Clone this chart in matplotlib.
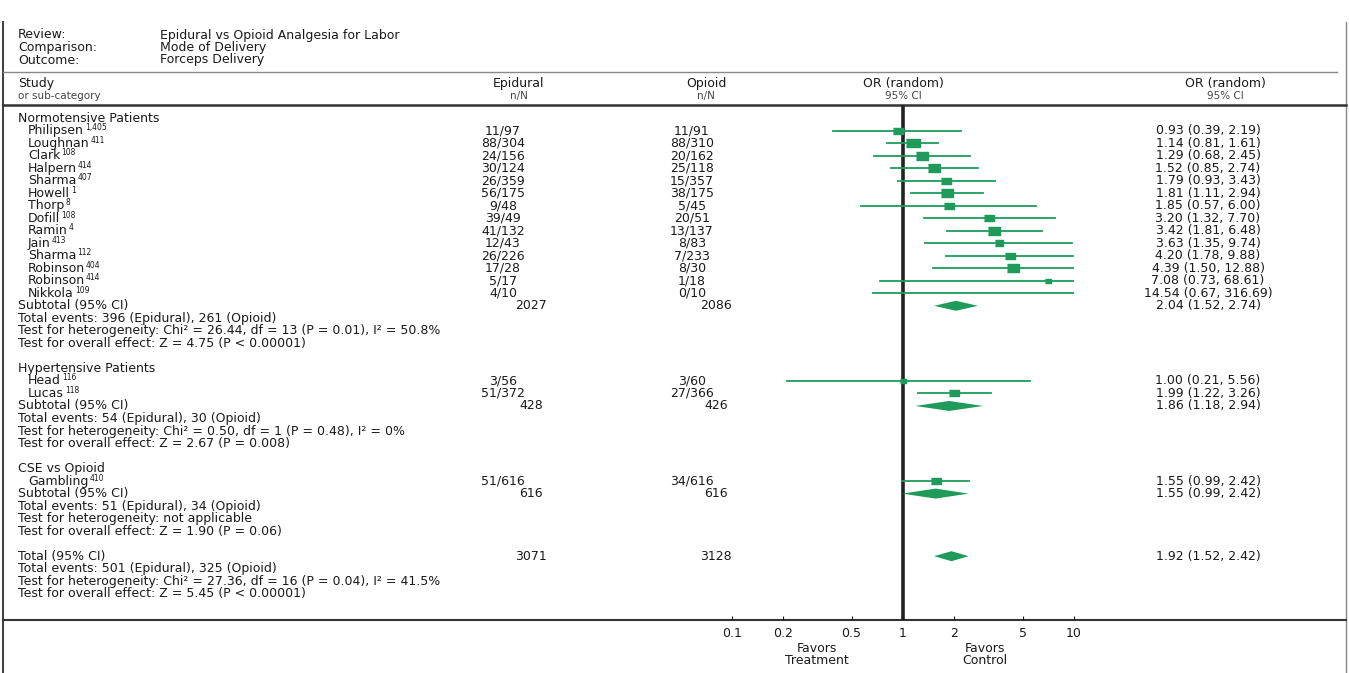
import matplotlib
matplotlib.use('Agg')
import matplotlib.pyplot as plt

plt.rcParams['font.family'] = ['DejaVu Sans']

# header info
review = 'Epidural vs Opioid Analgesia for Labor'
comparison = 'Mode of Delivery'
outcome = 'Forceps Delivery'

# individual studies
studies = ['Philipsen', 'Loughnan', 'Clark', 'Halpern', 'Sharma', 'Howell', 'Thorp',
           'Dofill', 'Ramin', 'Jain', 'Sharma', 'Robinson', 'Robinson', 'Nikkola',
           'Head', 'Lucas', 'Gambling']
refs = ['1,405', '411', '108', '414', '407', '1', '8', '108', '4', '413', '112',
        '404', '414', '109', '116', '118', '410']
study_group = [0] * 14 + [1] * 2 + [2]
epidural_nN = ['11/97', '88/304', '24/156', '30/124', '26/359', '56/175', '9/48', '39/49',
               '41/132', '12/43', '26/226', '17/28', '5/17', '4/10', '3/56', '51/372', '51/616']
opioid_nN = ['11/91', '88/310', '20/162', '25/118', '15/357', '38/175', '5/45', '20/51',
             '13/137', '8/83', '7/233', '8/30', '1/18', '0/10', '3/60', '27/366', '34/616']
odds = [0.93, 1.14, 1.29, 1.52, 1.79, 1.81, 1.85, 3.20, 3.42, 3.63, 4.20, 4.39, 7.08, 14.54,
        1.00, 1.99, 1.55]
ci_lo = [0.39, 0.81, 0.68, 0.85, 0.93, 1.11, 0.57, 1.32, 1.81, 1.35, 1.78, 1.50, 0.73, 0.67,
         0.21, 1.22, 0.99]
ci_hi = [2.19, 1.61, 2.45, 2.74, 3.43, 2.94, 6.00, 7.70, 6.48, 9.74, 9.88, 12.88, 68.61, 316.69,
         5.56, 3.26, 2.42]
weights = [6.5, 11, 9, 10, 8, 9, 6, 8, 9, 5, 8, 9, 2, 1.5, 1.5, 7, 7]

# subgroups
group_names = ['Normotensive Patients', 'Hypertensive Patients', 'CSE vs Opioid']
sub_epi = ['2027', '428', '616']
sub_opi = ['2086', '426', '616']
sub_or = [2.04, 1.86, 1.55]
sub_lo = [1.52, 1.18, 0.99]
sub_hi = [2.74, 2.94, 2.42]
sub_events = ['Total events: 396 (Epidural), 261 (Opioid)',
              'Total events: 54 (Epidural), 30 (Opioid)',
              'Total events: 51 (Epidural), 34 (Opioid)']
sub_het = ['Test for heterogeneity: Chi² = 26.44, df = 13 (P = 0.01), I² = 50.8%',
           'Test for heterogeneity: Chi² = 0.50, df = 1 (P = 0.48), I² = 0%',
           'Test for heterogeneity: not applicable']
sub_effect = ['Test for overall effect: Z = 4.75 (P < 0.00001)',
              'Test for overall effect: Z = 2.67 (P = 0.008)',
              'Test for overall effect: Z = 1.90 (P = 0.06)']

# overall
total_epi = '3071'
total_opi = '3128'
total_or, total_lo, total_hi = 1.92, 1.52, 2.42
total_lines = ['Total events: 501 (Epidural), 325 (Opioid)',
               'Test for heterogeneity: Chi² = 27.36, df = 16 (P = 0.04), I² = 41.5%',
               'Test for overall effect: Z = 5.45 (P < 0.00001)']

x_ticks = [0.1, 0.2, 0.5, 1, 2, 5, 10]
tick_labels = ['0.1', '0.2', '0.5', '1', '2', '5', '10']

green = '#1e9b5b'
ink = '#1a1a1a'
W, H = 1349, 673
fs = 9

fig = plt.figure(figsize=(W / 100, H / 100), dpi=100)
bg = fig.add_axes([0, 0, 1, 1])
bg.set_xlim(0, W)
bg.set_ylim(H, 0)
bg.axis('off')
renderer = fig.canvas.get_renderer()

# forest panel, y in pixel rows so both axes share rows
ax = fig.add_axes([732 / W, 1 - 620 / H, (1074 - 732) / W, (620 - 105) / H])
ax.set_facecolor('none')
ax.set_xscale('log')
ax.set_xlim(0.1, 10)
ax.set_ylim(620, 105)
for s in ax.spines.values():
    s.set_visible(False)
ax.set_yticks([])
ax.set_xticks(x_ticks)
ax.set_xticklabels(tick_labels)
ax.minorticks_off()
ax.tick_params(axis='x', direction='in', length=3, labelsize=fs, pad=5, colors=ink)
ax.axvline(1, color='#222222', lw=2.6, zorder=1)

# frame and rules
bg.plot([3, 3], [22, H], color='#444', lw=1.5)
bg.plot([1346, 1346], [22, H], color='#888', lw=1)
bg.plot([3, 1337], [72, 72], color='#888', lw=1)
bg.plot([3, 1346], [105, 105], color='#333', lw=1.8)
bg.plot([3, 1346], [620, 620], color='#333', lw=1.5)

# header
for i, (k, v) in enumerate([('Review:', review), ('Comparison:', comparison), ('Outcome:', outcome)]):
    y = 35 + i * 12.5
    bg.text(18, y, k, fontsize=fs, va='center', color=ink)
    bg.text(160, y, v, fontsize=fs, va='center', color=ink)

bg.text(18, 83, 'Study', fontsize=fs, va='center', color=ink)
bg.text(18, 96, 'or sub-category', fontsize=7.5, va='center', color='#444')
for cx, t1, t2 in [(519, 'Epidural', 'n/N'), (706, 'Opioid', 'n/N'),
                   (903, 'OR (random)', '95% CI'), (1225, 'OR (random)', '95% CI')]:
    bg.text(cx, 83, t1, fontsize=fs, va='center', ha='center', color=ink)
    bg.text(cx, 96, t2, fontsize=7.5, va='center', ha='center', color='#444')

row_h = 12.52
y0 = 118
marker_rect = [(-1, -0.6), (1, -0.6), (1, 0.6), (-1, 0.6)]


def row_y(r):
    return y0 + r * row_h


def diamond(o, lo, hi, y):
    ax.fill([lo, o, hi, o], [y, y - 5, y, y + 5], color=green, lw=0, zorder=3)


def study_label(name, ref, y):
    t = bg.text(28, y, name, fontsize=fs, va='center', color=ink)
    bb = t.get_window_extent(renderer)
    x_end = bg.transData.inverted().transform((bb.x1, bb.y0))[0]
    bg.text(x_end + 1, y - 3, ref, fontsize=5.5, va='center', color=ink)


r = 0
for g, name in enumerate(group_names):
    bg.text(18, row_y(r), name, fontsize=fs, va='center', color=ink)
    r += 1
    for i in range(len(studies)):
        if study_group[i] != g:
            continue
        y = row_y(r)
        study_label(studies[i], refs[i], y)
        bg.text(503, y, epidural_nN[i], fontsize=fs, va='center', ha='center', color=ink)
        bg.text(692, y, opioid_nN[i], fontsize=fs, va='center', ha='center', color=ink)
        bg.text(1208, y, f'{odds[i]:.2f} ({ci_lo[i]:.2f}, {ci_hi[i]:.2f})',
                fontsize=fs, va='center', ha='center', color=ink)
        ax.plot([ci_lo[i], ci_hi[i]], [y, y], color=green, lw=1.3, zorder=2)
        ax.plot(odds[i], y, marker=marker_rect, ms=3.5 + 0.55 * weights[i],
                color=green, mec=green, zorder=3, ls='none')
        r += 1
    y = row_y(r)
    bg.text(18, y, 'Subtotal (95% CI)', fontsize=fs, va='center', color=ink)
    bg.text(531, y, sub_epi[g], fontsize=fs, va='center', ha='center', color=ink)
    bg.text(716, y, sub_opi[g], fontsize=fs, va='center', ha='center', color=ink)
    bg.text(1208, y, f'{sub_or[g]:.2f} ({sub_lo[g]:.2f}, {sub_hi[g]:.2f})',
            fontsize=fs, va='center', ha='center', color=ink)
    diamond(sub_or[g], sub_lo[g], sub_hi[g], y)
    r += 1
    for line in [sub_events[g], sub_het[g], sub_effect[g]]:
        bg.text(18, row_y(r), line, fontsize=fs, va='center', color=ink)
        r += 1
    r += 1

y = row_y(r)
bg.text(18, y, 'Total (95% CI)', fontsize=fs, va='center', color=ink)
bg.text(531, y, total_epi, fontsize=fs, va='center', ha='center', color=ink)
bg.text(716, y, total_opi, fontsize=fs, va='center', ha='center', color=ink)
bg.text(1208, y, f'{total_or:.2f} ({total_lo:.2f}, {total_hi:.2f})',
        fontsize=fs, va='center', ha='center', color=ink)
diamond(total_or, total_lo, total_hi, y)
r += 1
for line in total_lines:
    bg.text(18, row_y(r), line, fontsize=fs, va='center', color=ink)
    r += 1

# favours labels
bg.text(817, 648, 'Favors', fontsize=fs, va='center', ha='center', color=ink)
bg.text(817, 661, 'Treatment', fontsize=fs, va='center', ha='center', color=ink)
bg.text(985, 648, 'Favors', fontsize=fs, va='center', ha='center', color=ink)
bg.text(985, 661, 'Control', fontsize=fs, va='center', ha='center', color=ink)

fig.savefig('out.png', dpi=100, facecolor='white')
